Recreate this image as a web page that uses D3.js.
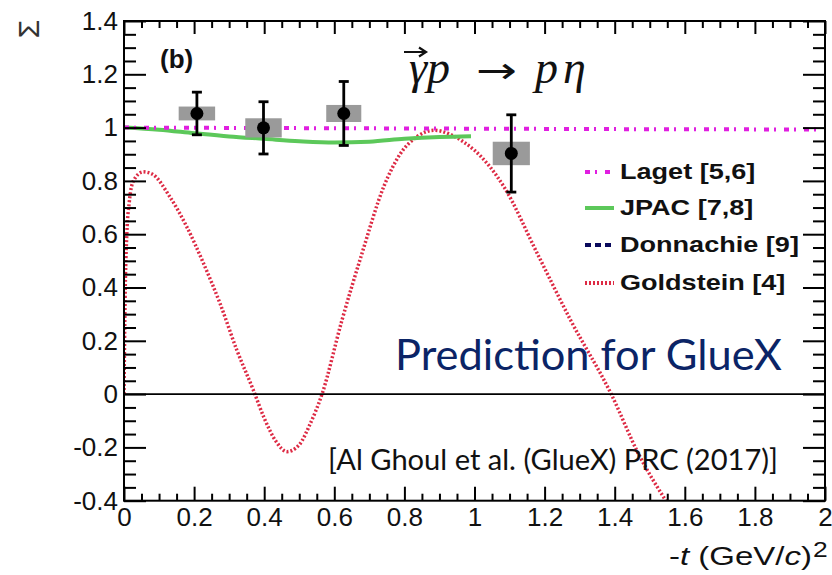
<!DOCTYPE html>
<html>
<head>
<meta charset="utf-8">
<script src="https://cdn.jsdelivr.net/npm/d3@7"></script>
<style>
  body { margin: 0; background: #fff; }
  svg { display: block; }
</style>
</head>
<body>
<svg id="chart" width="832" height="575"></svg>
<script>
// ---- axis ticks ----
const xMajor = [0, 0.2, 0.4, 0.6, 0.8, 1.0, 1.2, 1.4, 1.6, 1.8, 2.0];
const xLabels = ["0", "0.2", "0.4", "0.6", "0.8", "1", "1.2", "1.4", "1.6", "1.8", "2"];
const yMajor = [-0.4, -0.2, 0, 0.2, 0.4, 0.6, 0.8, 1.0, 1.2, 1.4];
const yLabels = ["-0.4", "-0.2", "0", "0.2", "0.4", "0.6", "0.8", "1", "1.2", "1.4"];

// ---- GlueX beam asymmetry points ----
const dataT     = [0.208, 0.398, 0.627, 1.105];
const dataSigma = [1.053, 0.999, 1.053, 0.903];
const dataStat  = [0.080, 0.098, 0.120, 0.145];
const dataSys   = [0.026, 0.036, 0.032, 0.044];
const dataBin   = [0.052, 0.052, 0.050, 0.053];

// ---- model curves ----
const lagetT     = [0, 0.5, 1.0, 1.5, 2.0];
const lagetSigma = [1.0, 0.998, 0.996, 0.994, 0.993];

const jpacT     = [0, 0.1, 0.2, 0.3, 0.4, 0.5, 0.6, 0.7, 0.8, 0.9, 0.99];
const jpacSigma = [1.0, 0.992, 0.979, 0.967, 0.958, 0.949, 0.944, 0.947, 0.958, 0.965, 0.968];

const goldT = [0, 0.003, 0.008, 0.015, 0.027, 0.055, 0.08, 0.131, 0.179, 0.227, 0.274, 0.322,
               0.369, 0.40, 0.435, 0.465, 0.50, 0.53, 0.565, 0.622, 0.679, 0.741, 0.789, 0.836,
               0.884, 0.93, 0.97, 1.0, 1.084, 1.179, 1.274, 1.39, 1.47, 1.546];
const goldSigma = [0, 0.35, 0.6, 0.72, 0.8, 0.834, 0.826, 0.74, 0.628, 0.49, 0.34, 0.165,
                   0.015, -0.09, -0.18, -0.216, -0.19, -0.115, 0, 0.278, 0.528, 0.778, 0.903, 0.966,
                   0.99, 0.975, 0.945, 0.915, 0.778, 0.528, 0.278, 0, -0.23, -0.4];

const legendNames  = ["Laget [5,6]", "JPAC [7,8]", "Donnachie [9]", "Goldstein [4]"];
const legendColors = ["#e01ee0", "#5cc85a", "#0a0a5c", "#dd2a44"];

// ---- layout ----
const svg = d3.select("#chart");
const X0 = 124, X1 = 825, Y0 = 500.7, Y1 = 21;
const x = d3.scaleLinear().domain([0, 2]).range([X0, X1]);
const y = d3.scaleLinear().domain([-0.4, 1.4]).range([Y0, Y1]);

const xMinor = d3.range(0, 2.0001, 0.05).filter(v => Math.abs(v / 0.2 - Math.round(v / 0.2)) > 1e-6);
const yMinor = d3.range(-0.4, 1.4001, 0.05).filter(v => Math.abs(v / 0.2 - Math.round(v / 0.2)) > 1e-6);

const FONT = "'Liberation Sans', Arial, Helvetica, sans-serif";

function styleAxis(g) {
  g.attr("font-family", FONT).attr("font-size", 26);
  g.select(".domain").remove();
  g.selectAll("line").attr("stroke", "#000").attr("stroke-width", 2);
  g.selectAll("text").attr("font-family", FONT).attr("font-size", 26).attr("fill", "#111");
}

// ---- curves (clipped to the frame) ----
svg.append("clipPath").attr("id", "plotclip")
  .append("rect").attr("x", X0).attr("y", Y1).attr("width", X1 - X0).attr("height", Y0 - Y1);

const plot = svg.append("g").attr("clip-path", "url(#plotclip)");

function curve(ts, vs) {
  return d3.line()
    .x(i => x(ts[i]))
    .y(i => y(vs[i]))
    .curve(d3.curveMonotoneX)(d3.range(ts.length));
}

plot.append("path")
  .attr("d", curve(goldT, goldSigma))
  .attr("fill", "none").attr("stroke", legendColors[3])
  .attr("stroke-width", 3.5).attr("stroke-dasharray", "2,2");

plot.append("path")
  .attr("d", curve(jpacT, jpacSigma))
  .attr("fill", "none").attr("stroke", legendColors[1])
  .attr("stroke-width", 4);

plot.append("path")
  .attr("d", curve(lagetT, lagetSigma))
  .attr("fill", "none").attr("stroke", legendColors[0])
  .attr("stroke-width", 4).attr("stroke-dasharray", "5,5,2,8");

// zero reference line
svg.append("line")
  .attr("x1", x(0)).attr("x2", x(2)).attr("y1", y(0)).attr("y2", y(0))
  .attr("stroke", "#000").attr("stroke-width", 1.6);

// ---- data points: systematic boxes, statistical bars, markers ----
const pts = d3.range(dataT.length);
const pg = svg.append("g");
pg.selectAll("rect.sys").data(pts).join("rect")
  .attr("class", "sys")
  .attr("x", i => x(dataT[i] - dataBin[i]))
  .attr("width", i => x(dataT[i] + dataBin[i]) - x(dataT[i] - dataBin[i]))
  .attr("y", i => y(dataSigma[i] + dataSys[i]))
  .attr("height", i => y(dataSigma[i] - dataSys[i]) - y(dataSigma[i] + dataSys[i]))
  .attr("fill", "#9a9a9a");

pg.selectAll("line.err").data(pts).join("line")
  .attr("class", "err")
  .attr("x1", i => x(dataT[i])).attr("x2", i => x(dataT[i]))
  .attr("y1", i => y(dataSigma[i] + dataStat[i])).attr("y2", i => y(dataSigma[i] - dataStat[i]))
  .attr("stroke", "#000").attr("stroke-width", 2.8);

[1, -1].forEach(s => {
  pg.selectAll("line.cap" + (s > 0 ? "t" : "b")).data(pts).join("line")
    .attr("x1", i => x(dataT[i]) - 5).attr("x2", i => x(dataT[i]) + 5)
    .attr("y1", i => y(dataSigma[i] + s * dataStat[i])).attr("y2", i => y(dataSigma[i] + s * dataStat[i]))
    .attr("stroke", "#000").attr("stroke-width", 2.8);
});

pg.selectAll("circle").data(pts).join("circle")
  .attr("cx", i => x(dataT[i])).attr("cy", i => y(dataSigma[i]))
  .attr("r", 6.5).attr("fill", "#000");

// ---- axes: major/minor ticks on all four sides ----
svg.append("g").attr("transform", `translate(0,${Y0})`)
  .call(d3.axisBottom(x).tickValues(xMajor).tickFormat(d => xLabels[xMajor.indexOf(d)])
    .tickSize(-14).tickSizeOuter(0).tickPadding(7))
  .call(styleAxis);
svg.append("g").attr("transform", `translate(0,${Y0})`)
  .call(d3.axisBottom(x).tickValues(xMinor).tickFormat("").tickSize(-7).tickSizeOuter(0))
  .call(styleAxis);
svg.append("g").attr("transform", `translate(0,${Y1})`)
  .call(d3.axisTop(x).tickValues(xMajor).tickFormat("").tickSize(-13).tickSizeOuter(0))
  .call(styleAxis);
svg.append("g").attr("transform", `translate(0,${Y1})`)
  .call(d3.axisTop(x).tickValues(xMinor).tickFormat("").tickSize(-7).tickSizeOuter(0))
  .call(styleAxis);

svg.append("g").attr("transform", `translate(${X0},0)`)
  .call(d3.axisLeft(y).tickValues(yMajor).tickFormat(d => yLabels[yMajor.findIndex(v => Math.abs(v - d) < 1e-9)])
    .tickSize(-22).tickSizeOuter(0).tickPadding(6))
  .call(styleAxis);
svg.append("g").attr("transform", `translate(${X0},0)`)
  .call(d3.axisLeft(y).tickValues(yMinor).tickFormat("").tickSize(-12).tickSizeOuter(0))
  .call(styleAxis);
svg.append("g").attr("transform", `translate(${X1},0)`)
  .call(d3.axisRight(y).tickValues(yMajor).tickFormat("").tickSize(-22).tickSizeOuter(0))
  .call(styleAxis);
svg.append("g").attr("transform", `translate(${X1},0)`)
  .call(d3.axisRight(y).tickValues(yMinor).tickFormat("").tickSize(-12).tickSizeOuter(0))
  .call(styleAxis);

// frame
svg.append("rect")
  .attr("x", X0).attr("y", Y1).attr("width", X1 - X0).attr("height", Y0 - Y1)
  .attr("fill", "none").attr("stroke", "#000").attr("stroke-width", 2);

// ---- axis titles ----
svg.append("text")
  .attr("transform", "translate(28,29) rotate(-90)")
  .attr("text-anchor", "middle").attr("dominant-baseline", "central")
  .attr("font-family", FONT).attr("font-size", 30).attr("fill", "#333")
  .text("Σ");

const xt = svg.append("g").attr("transform", "translate(812,565) scale(1.32,1)")
  .append("text")
  .attr("text-anchor", "end")
  .attr("font-family", FONT).attr("font-size", 25).attr("fill", "#111");
xt.append("tspan").text("-");
xt.append("tspan").attr("font-style", "italic").text("t");
xt.append("tspan").text(" (GeV/");
xt.append("tspan").attr("font-style", "italic").text("c");
xt.append("tspan").text(")");
svg.append("text")
  .attr("x", 813).attr("y", 557)
  .attr("font-family", FONT).attr("font-size", 22).attr("fill", "#111")
  .attr("transform", "translate(813,0) scale(1.2,1) translate(-813,0)")
  .text("2");

// panel tag
svg.append("text")
  .attr("x", 160).attr("y", 68)
  .attr("font-family", FONT).attr("font-size", 26).attr("font-weight", "bold").attr("fill", "#111")
  .text("(b)");

// reaction label
const SERIF = "'Liberation Serif', 'Times New Roman', serif";
const rx = svg.append("g").attr("font-family", SERIF).attr("font-style", "italic")
  .attr("font-size", 46).attr("fill", "#111");
rx.append("text").attr("x", 409).attr("y", 83).text("γ");
rx.append("text").attr("x", 427).attr("y", 83).text("p");
rx.append("text").attr("x", 535).attr("y", 83).text("p");
rx.append("text").attr("x", 563).attr("y", 83).text("η");
svg.append("text")
  .attr("x", 476).attr("y", 83)
  .attr("font-family", "'DejaVu Sans', sans-serif").attr("font-size", 36).attr("fill", "#111")
  .attr("textLength", 41).attr("lengthAdjust", "spacingAndGlyphs")
  .text("→");
svg.append("path")
  .attr("d", "M404,52 H425 M419,47.5 L426,52 L419,56.5")
  .attr("fill", "none").attr("stroke", "#111").attr("stroke-width", 2.2);

// ---- legend ----
const legY = [179, 215, 252, 290];
const legDash = ["5,5,2,8", null, "6,4", "2,2"];
const leg = svg.append("g");
legendNames.forEach((name, i) => {
  leg.append("line")
    .attr("x1", 585).attr("x2", 614).attr("y1", legY[i] - 7).attr("y2", legY[i] - 7)
    .attr("stroke", legendColors[i]).attr("stroke-width", 4)
    .attr("stroke-dasharray", legDash[i]);
  leg.append("text")
    .attr("transform", `translate(620,${legY[i]}) scale(1.23,1)`)
    .attr("font-family", FONT).attr("font-size", 22).attr("font-weight", "bold").attr("fill", "#111")
    .text(name);
});

// ---- annotations ----
const SANS2 = "Lato, 'Open Sans', sans-serif";
svg.append("text")
  .attr("x", 395).attr("y", 370)
  .attr("font-family", SANS2).attr("font-size", 42).attr("fill", "#0b2466")
  .attr("textLength", 387).attr("lengthAdjust", "spacingAndGlyphs")
  .text("Prediction for GlueX");
svg.append("text")
  .attr("x", 328).attr("y", 470)
  .attr("font-family", SANS2).attr("font-size", 29).attr("fill", "#111")
  .attr("textLength", 450).attr("lengthAdjust", "spacingAndGlyphs")
  .text("[Al Ghoul et al. (GlueX) PRC (2017)]");
</script>
</body>
</html>
